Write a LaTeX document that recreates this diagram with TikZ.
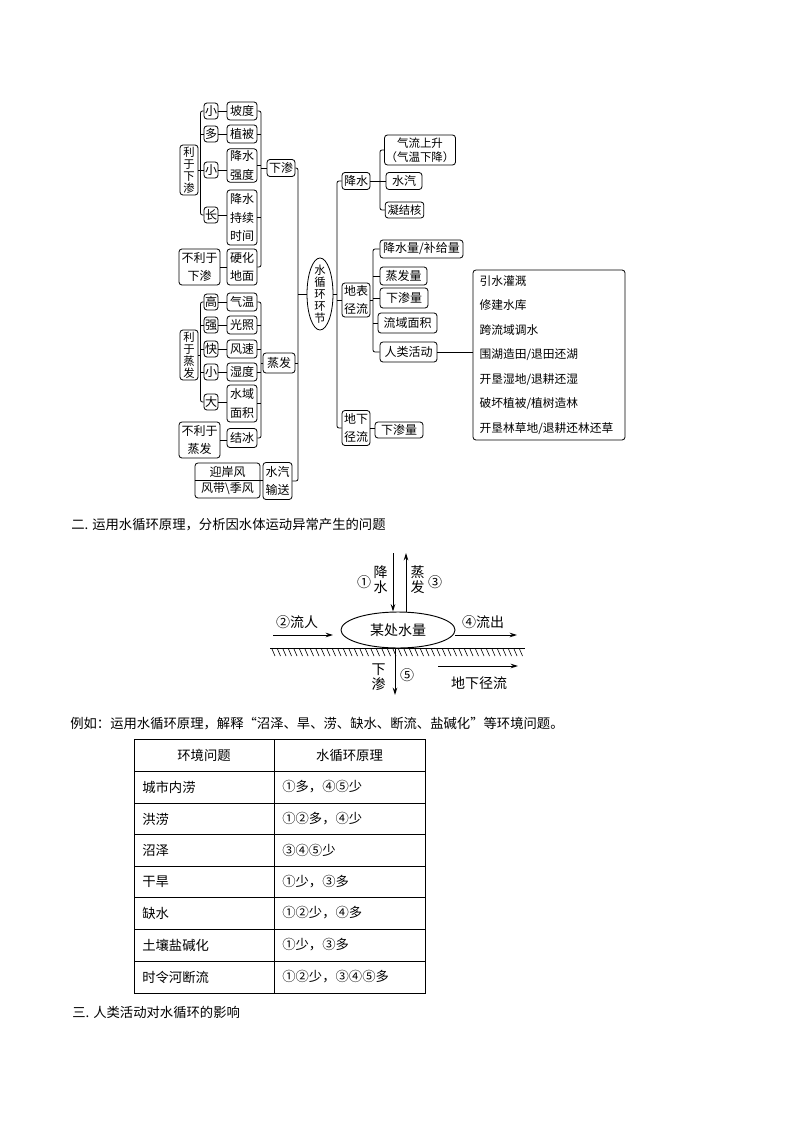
\documentclass[tikz,border=0pt]{standalone}
\usepackage{fontspec}
\setmainfont{Noto Sans CJK SC}
\usetikzlibrary{arrows.meta,shapes.geometric}
\newcommand\zzB{\fontsize{9}{12}\selectfont}
\newcommand\zzBm{\fontsize{9}{13.8}\selectfont}
\newcommand\zzV{\fontsize{8.5}{9.1}\selectfont}
\newcommand\zzW{\fontsize{10.5}{11.3}\selectfont}
\newcommand\zzH{\fontsize{10}{12}\selectfont}
\newcommand\zzS{\fontsize{8.6}{10.4}\selectfont}
\begin{document}
\begin{tikzpicture}[x=0.75pt,y=-0.75pt,
  bx/.style={draw=black, line width=0.6pt, rounded corners=2.2pt, inner sep=0pt, font=\zzB, align=center},
  lone/.style={bx, minimum width=10.5pt, minimum height=12pt},
  ltwo/.style={bx, minimum width=22.5pt, minimum height=13.5pt},
  multi/.style={bx, font=\zzBm},
  vert/.style={bx, font=\zzV, minimum width=13.5pt, minimum height=37.5pt},
  ln/.style={draw=black, line width=0.6pt},
  brk/.style={draw=black, line width=0.6pt, rounded corners=1.5pt},
  ar/.style={draw=black, line width=0.7pt, -{Stealth[length=5.5pt,width=3.4pt]}},
  lab/.style={font=\zzW, inner sep=0pt, align=center},
  txt/.style={font=\zzH, inner sep=0pt, anchor=west},
]
\fill[white] (0,0) rectangle (794,1123);
\path[use as bounding box] (0,0) rectangle (794,1123);

% ---------------- tree: infiltration ----------------
\node[lone] (a1) at (211,111) {小};
\node[lone] (a2) at (211,134) {多};
\node[lone] (a3) at (211,170) {小};
\node[lone] (a4) at (211,215) {长};
\node[ltwo] (b1) at (242,111) {坡度};
\node[ltwo] (b2) at (242,134) {植被};
\node[multi, minimum width=22.5pt, minimum height=25pt] (b3) at (242,165.5) {降水\\强度};
\node[multi, minimum width=22.5pt, minimum height=41.25pt] (b4) at (242,217.5) {降水\\持续\\时间};
\node[multi, minimum width=22.5pt, minimum height=27pt] (b5) at (242,267) {硬化\\地面};
\node[vert] (L1) at (189,170) {利\\于\\下\\渗};
\node[multi, minimum width=30.75pt, minimum height=27pt] (L2) at (199.5,267) {不利于\\下渗};
\node[bx, minimum width=21pt, minimum height=12.75pt] (M1) at (281,168) {下渗};

\coordinate (s1) at (200.5,0);
\coordinate (s2) at (261,0);
\coordinate (s3) at (298,0);
\coordinate (s4) at (337,0);
\coordinate (s5) at (380,0);
\coordinate (s6) at (373,0);

\draw[brk] (a1.west) -- (a1.west -| s1) -- (a4.west -| s1) -- (a4.west);
\draw[ln] (a2.west) -- (a2.west -| s1);
\draw[ln] (a3.west) -- (a3.west -| s1);
\draw[ln] (L1.east) -- (L1.east -| s1);
\draw[ln] (a1.east) -- (b1.west);
\draw[ln] (a2.east) -- (b2.west);
\draw[ln] (a3.east) -- (a3.east -| b3.west);
\draw[ln] (a4.east) -- (a4.east -| b4.west);
\draw[ln] (L2.east) -- (L2.east -| b5.west);
\draw[brk] (b1.east) -- (b1.east -| s2) -- (b5.east -| s2) -- (b5.east);
\draw[ln] (b2.east) -- (b2.east -| s2);
\draw[ln] (b3.east) -- (b3.east -| s2);
\draw[ln] (b4.east) -- (b4.east -| s2);
\draw[ln] (M1.west) -- (M1.west -| s2);

% ---------------- tree: evaporation ----------------
\node[lone] (c1) at (211,302) {高};
\node[lone] (c2) at (211,325) {强};
\node[lone] (c3) at (211,349) {快};
\node[lone] (c4) at (211,372) {小};
\node[lone] (c5) at (211,402) {大};
\node[ltwo] (d1) at (242,302) {气温};
\node[ltwo] (d2) at (242,325) {光照};
\node[ltwo] (d3) at (242,349) {风速};
\node[ltwo] (d4) at (242,372) {湿度};
\node[multi, minimum width=22.5pt, minimum height=27.75pt] (d5) at (242,403.5) {水域\\面积};
\node[bx, minimum width=22.5pt, minimum height=14.25pt] (d6) at (242,438) {结冰};
\node[vert] (L3) at (189,355) {利\\于\\蒸\\发};
\node[multi, minimum width=30.75pt, minimum height=27pt] (L4) at (199.5,440) {不利于\\蒸发};
\node[bx, minimum width=24pt, minimum height=15pt] (M2) at (279,363) {蒸发};

\draw[brk] (c1.west) -- (c1.west -| s1) -- (c5.west -| s1) -- (c5.west);
\draw[ln] (c2.west) -- (c2.west -| s1);
\draw[ln] (c3.west) -- (c3.west -| s1);
\draw[ln] (c4.west) -- (c4.west -| s1);
\draw[ln] (L3.east) -- (L3.east -| s1);
\draw[ln] (c1.east) -- (d1.west);
\draw[ln] (c2.east) -- (d2.west);
\draw[ln] (c3.east) -- (d3.west);
\draw[ln] (c4.east) -- (d4.west);
\draw[ln] (c5.east) -- (c5.east -| d5.west);
\draw[ln] (L4.east) -- (L4.east -| d6.west);
\draw[brk] (d1.east) -- (d1.east -| s2) -- (d6.east -| s2) -- (d6.east);
\draw[ln] (d2.east) -- (d2.east -| s2);
\draw[ln] (d3.east) -- (d3.east -| s2);
\draw[ln] (d4.east) -- (d4.east -| s2);
\draw[ln] (d5.east) -- (d5.east -| s2);
\draw[ln] (M2.west) -- (M2.west -| s2);

% ---------------- tree: vapour transport ----------------
\node[multi, minimum width=21.75pt, minimum height=27.75pt] (M3) at (277.5,481) {水汽\\输送};
\node[bx, font=\fontsize{9}{12}\selectfont, minimum width=48.75pt, minimum height=26.25pt] (M4) at (227.5,480.5) {迎岸风\\风带\textbackslash 季风};
\draw[ln] (M4.west) -- (M4.east);
\draw[ln] (M4.east) -- (M4.east -| M3.west);

% ---------------- centre ----------------
\node[ellipse, draw=black, line width=0.6pt, inner sep=0pt, minimum width=19.5pt, minimum height=54pt] (el) at (320,294) {};
\node[font=\fontsize{8.5}{9}\selectfont, align=center, inner sep=0pt] (elt) at (el.center) {水\\循\\环\\环\\节};
\draw[brk] (M1.east) -- (M1.east -| s3) -- (M3.east -| s3) -- (M3.east);
\draw[ln] (M2.east) -- (M2.east -| s3);
\draw[ln] (el.west) -- (el.west -| s3);

% ---------------- right side ----------------
\node[bx, minimum width=21pt, minimum height=12.75pt] (R1) at (356,181) {降水};
\node[multi, minimum width=21pt, minimum height=25.5pt] (R2) at (356,300) {地表\\径流};
\node[multi, minimum width=21pt, minimum height=26.25pt] (R3) at (356,428) {地下\\径流};
\draw[brk] (R1.west) -- (R1.west -| s4) -- (R3.west -| s4) -- (R3.west);
\draw[ln] (R2.west) -- (R2.west -| s4);
\draw[ln] (el.east) -- (el.east -| s4);

\node[bx, font=\zzS, minimum width=53.25pt, minimum height=22.5pt] (P1) at (420,150) {气流上升\\（气温下降）};
\node[bx, minimum width=27pt, minimum height=12.75pt] (P2) at (404,181) {水汽};
\node[bx, font=\fontsize{8.5}{10}\selectfont, minimum width=29pt, minimum height=12pt] (P3) at (404.5,210) {凝结核};
\draw[brk] (P1.west) -- (P1.west -| s5) -- (P3.west -| s5) -- (P3.west);
\draw[ln] (P2.west) -- (R1.east);

\node[bx, minimum width=62.25pt, minimum height=13.5pt] (Q1) at (421.5,249) {降水量/补给量};
\node[bx, minimum width=35.25pt, minimum height=13.5pt] (Q2) at (403.5,276) {蒸发量};
\node[bx, minimum width=36pt, minimum height=15pt] (Q3) at (404,298) {下渗量};
\node[bx, minimum width=44.25pt, minimum height=15pt] (Q4) at (407.5,323) {流域面积};
\node[bx, minimum width=42.75pt, minimum height=15pt] (Q5) at (408.5,352) {人类活动};
\draw[brk] (Q1.west) -- (Q1.west -| s6) -- (Q5.west -| s6) -- (Q5.west);
\draw[ln] (Q2.west) -- (Q2.west -| s6);
\draw[ln] (Q3.west) -- (Q3.west -| s6);
\draw[ln] (Q4.west) -- (Q4.west -| s6);
\draw[ln] (R2.east) -- (R2.east -| s6);

\node[bx, font=\fontsize{8.8}{18.4}\selectfont, align=left, text width=104pt, inner xsep=5pt, minimum height=127.5pt] (BIG) at (549,355)
 {引水灌溉\\修建水库\\跨流域调水\\围湖造田/退田还湖\\开垦湿地/退耕还湿\\破坏植被/植树造林\\开垦林草地/退耕还林还草};
\draw[ln] (Q5.east) -- (Q5.east -| BIG.west);

\node[bx, minimum width=36pt, minimum height=12pt] (S1) at (399,430) {下渗量};
\draw[ln] (R3.east) -- (R3.east -| S1.west);

% ---------------- heading 2 ----------------
\node[txt] (h2) at (71,525) {二. 运用水循环原理，分析因水体运动异常产生的问题};

% ---------------- water balance sketch ----------------
\node[ellipse, draw=black, line width=0.7pt, inner sep=0pt, minimum width=85.5pt, minimum height=27pt, font=\zzW] (wq) at (398,630) {某处水量};
\coordinate (pA) at (393,553);
\coordinate (pB) at (406,553);
\draw[ar] (pA) -- (wq.north -| pA);
\draw[ar] (wq.north -| pB) -- (pB);
\coordinate (iA) at (273,635);
\coordinate (iB) at (333,635);
\draw[ar] (iA) -- (iB);
\coordinate (oA) at (455,635);
\coordinate (oB) at (517,635);
\draw[ar] (oA) -- (oB);
\coordinate (gL) at (270,648);
\coordinate (gR) at (525,648);
\draw[line width=0.7pt] (gL) -- (gR);
\foreach \i in {0,...,45} \draw[line width=0.45pt] (272+\i*5.5,649) -- ++(3,7);
\coordinate (dA) at (395,648);
\coordinate (dB) at (395,695);
\draw[ar] (dA) -- (dB);
\coordinate (uA) at (438,666);
\coordinate (uB) at (518,666);
\draw[ar] (uA) -- (uB);
\node[lab] (w1) at (364,582) {①};
\node[lab] (w2) at (380.5,580) {降\\水};
\node[lab] (w3) at (417.5,580) {蒸\\发};
\node[lab] (w4) at (435,582) {③};
\node[lab] (w5) at (297,622) {②流人};
\node[lab] (w6) at (483,622) {④流出};
\node[lab] (w7) at (378.5,677) {下\\渗};
\node[lab] (w8) at (407,675) {⑤};
\node[lab] (w9) at (479,683) {地下径流};

% ---------------- example + table ----------------
\node[txt] (h3) at (70,724) {例如：运用水循环原理，解释“沼泽、旱、涝、缺水、断流、盐碱化”等环境问题。};
\draw[line width=0.7pt] (134,739) rectangle (425,993);
\draw[line width=0.7pt] (274,739) -- (274,993);
\foreach \y in {771,803,834,866,897,929,961} \draw[line width=0.7pt] (134,\y) -- (425,\y);
\node[font=\zzH, inner sep=0pt] (t0a) at (204,755) {环境问题};
\node[font=\zzH, inner sep=0pt] (t0b) at (349.5,755) {水循环原理};
\foreach \y/\a/\b in {787/城市内涝/①多，④⑤少, 819/洪涝/①②多，④少, 850/沼泽/③④⑤少, 882/干旱/①少，③多, 913/缺水/①②少，④多, 945/土壤盐碱化/①少，③多, 977/时令河断流/①②少，③④⑤多}
{
  \node[txt] at (142,\y) {\a};
  \node[txt] at (282,\y) {\b};
}

% ---------------- heading 3 ----------------
\node[txt] (h4) at (72,1012) {三. 人类活动对水循环的影响};
\end{tikzpicture}
\end{document}
